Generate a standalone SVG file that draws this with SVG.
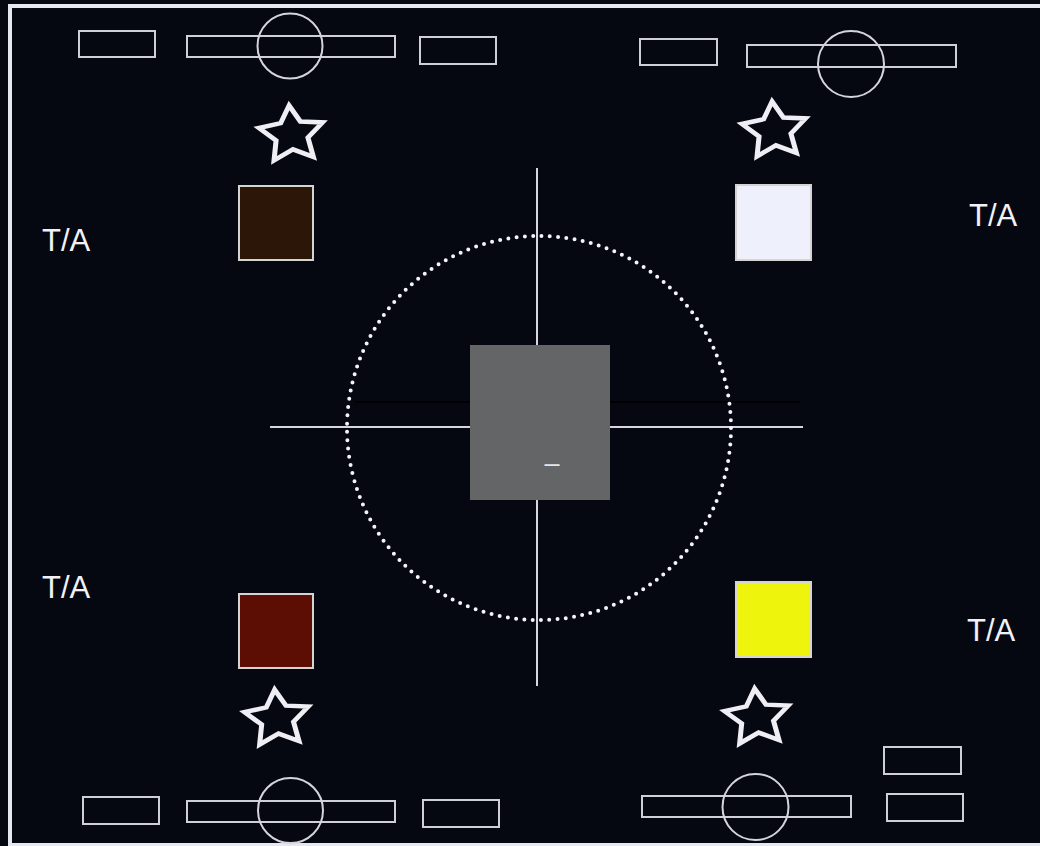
<svg xmlns="http://www.w3.org/2000/svg" width="1040" height="846" viewBox="0 0 1040 846">
  <style>
    .bg { fill: #050711; }
    .frame { fill: none; stroke: #e6e8f0; stroke-width: 4; }
    .box { fill: none; stroke: #cfd0d6; stroke-width: 2; }
    .ring { fill: none; stroke: #d4d5dc; stroke-width: 2; }
    .star { fill: #050711; stroke: #eeeef4; stroke-width: 4.5; stroke-linejoin: miter; }
    .sq { stroke: #d6d4d2; stroke-width: 2; }
    .lbl { font-family: "Liberation Sans", Arial, sans-serif; font-size: 31px; fill: #f2f2f6; }
    .axis { stroke: #d6d7de; stroke-width: 2; fill: none; }
    .dots { fill: none; stroke: #f4f4f8; stroke-width: 4; stroke-linecap: round; stroke-dasharray: 0 8.32; }
  </style>
  <defs>
    <path id="starShape" d="M0,-29 L8.82,-12.14 L28.53,-9.27 L14.27,4.64 L17.63,24.27 L0,15 L-17.63,24.27 L-14.27,4.64 L-28.53,-9.27 L-8.82,-12.14 Z"/>
  </defs>

  <rect class="bg" x="0" y="0" width="1040" height="846"/>
  <rect class="frame" x="10" y="6" width="1040" height="839"/>

  <g id="sat-top-left">
    <rect class="box" x="79" y="31" width="76" height="26"/>
    <rect class="box" x="187" y="36" width="208" height="21"/>
    <circle class="ring" cx="290" cy="46" r="32.5"/>
    <rect class="box" x="420" y="37" width="76" height="27"/>
  </g>
  <g id="sat-top-right">
    <rect class="box" x="640" y="39" width="77" height="26"/>
    <rect class="box" x="747" y="45" width="209" height="22"/>
    <circle class="ring" cx="851" cy="64" r="33"/>
  </g>
  <g id="sat-bottom-left">
    <rect class="box" x="83" y="797" width="76" height="27"/>
    <rect class="box" x="187" y="801" width="208" height="21"/>
    <circle class="ring" cx="290.5" cy="810.5" r="32.5"/>
    <rect class="box" x="423" y="800" width="76" height="27"/>
  </g>
  <g id="sat-bottom-right">
    <rect class="box" x="884" y="747" width="77" height="27"/>
    <rect class="box" x="642" y="796" width="209" height="21"/>
    <circle class="ring" cx="755.5" cy="807" r="33"/>
    <rect class="box" x="887" y="794" width="76" height="27"/>
  </g>

  <g id="star-top-left"><use href="#starShape" class="star" transform="translate(291.6,134.4) rotate(-5) scale(1.12,1)"/></g>
  <g id="star-top-right"><use href="#starShape" class="star" transform="translate(774.6,130.4) rotate(-5) scale(1.12,1)"/></g>
  <g id="star-bottom-left"><use href="#starShape" class="star" transform="translate(277.2,718.6) rotate(-5) scale(1.12,1)"/></g>
  <g id="star-bottom-right"><use href="#starShape" class="star" transform="translate(757.2,717.6) rotate(-5) scale(1.12,1)"/></g>

  <g id="sq-brown"><rect class="sq" x="239" y="186" width="74" height="74" fill="#2c1608"/></g>
  <g id="sq-white"><rect class="sq" x="736" y="185" width="75" height="75" fill="#eef0fb" stroke="#c8cad4"/></g>
  <g id="sq-red"><rect class="sq" x="239" y="594" width="74" height="74" fill="#5c0d04"/></g>
  <g id="sq-yellow"><rect class="sq" x="736" y="582" width="75" height="75" fill="#eef40c" stroke="#e8eaa0"/></g>

  <g id="lbl-tl"><text class="lbl" x="42" y="251">T/A</text></g>
  <g id="lbl-tr"><text class="lbl" x="969" y="226">T/A</text></g>
  <g id="lbl-bl"><text class="lbl" x="42" y="598">T/A</text></g>
  <g id="lbl-br"><text class="lbl" x="967" y="641">T/A</text></g>

  <g id="connectors">
    <line x1="355" y1="402" x2="800" y2="402" stroke="#000000" stroke-width="1.5"/>
    <line class="axis" x1="537" y1="168" x2="537" y2="686"/>
    <line class="axis" x1="270" y1="427" x2="803" y2="427"/>
    <circle class="dots" cx="539" cy="428" r="192"/>
  </g>
  <g id="center-block">
    <rect x="470" y="345" width="140" height="155" fill="#646566"/>
    <text x="552" y="472" font-family="Liberation Sans, Arial, sans-serif" font-size="27" fill="#e6e6ea" text-anchor="middle">–</text>
  </g>
</svg>
